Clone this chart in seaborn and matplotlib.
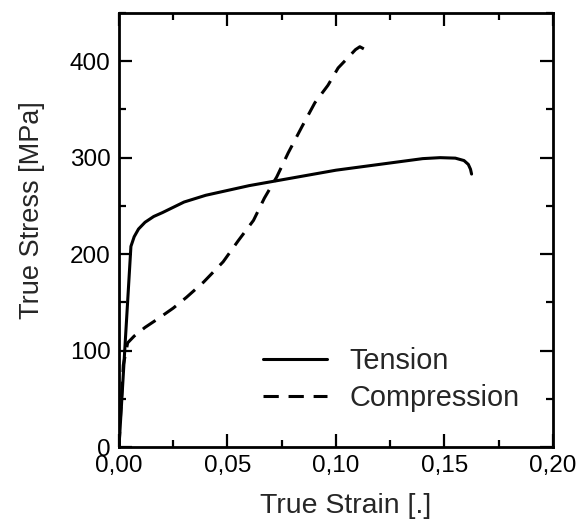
import numpy as np
import pandas as pd
import matplotlib
matplotlib.use("Agg")
import matplotlib.pyplot as plt
from matplotlib.ticker import MultipleLocator, FuncFormatter
import seaborn as sns

# values
tension_strain = [0, 0.0055, 0.007, 0.009, 0.012, 0.016, 0.02, 0.03, 0.04, 0.05, 0.06,
                  0.07, 0.08, 0.09, 0.10, 0.11, 0.12, 0.13, 0.14, 0.148, 0.155, 0.159,
                  0.161, 0.162, 0.1625]
tension_stress = [0, 208, 218, 226, 233, 239, 243, 254, 261, 266, 271,
                  275, 279, 283, 287, 290, 293, 296, 299, 300, 299.5, 297,
                  293, 288, 283]

compression_strain = [0, 0.001, 0.002, 0.004, 0.007, 0.012, 0.018, 0.025, 0.031, 0.039,
                      0.048, 0.055, 0.062, 0.067, 0.0727, 0.078, 0.0843, 0.0903, 0.0963,
                      0.101, 0.1065, 0.109, 0.111, 0.1143]
compression_stress = [0, 45, 85, 108, 115, 124, 133, 144, 155, 171,
                      192, 214, 235, 258, 280, 305, 332, 357, 375,
                      393, 406, 412, 415, 411]

x_ticks = [0.00, 0.05, 0.10, 0.15, 0.20]
y_ticks = [0, 100, 200, 300, 400]

sns.set_style("ticks")
plt.rcParams["font.family"] = ["Liberation Sans", "DejaVu Sans"]

fig = plt.figure(figsize=(5.79, 5.19), dpi=100)
ax = fig.add_axes([0.2055, 0.1387, 0.7495, 0.8363])

df_t = pd.DataFrame({"strain": tension_strain, "stress": tension_stress})
df_c = pd.DataFrame({"strain": compression_strain, "stress": compression_stress})

sns.lineplot(data=df_t, x="strain", y="stress", ax=ax, color="black", lw=2.2,
             sort=False, estimator=None, label="Tension")
sns.lineplot(data=df_c, x="strain", y="stress", ax=ax, color="black", lw=2.2,
             sort=False, estimator=None, label="Compression",
             linestyle=(0, (5, 3.2)))

ax.set_xlim(0, 0.20)
ax.set_ylim(0, 450)
ax.set_xticks(x_ticks)
ax.set_yticks(y_ticks)
ax.xaxis.set_minor_locator(MultipleLocator(0.025))
ax.yaxis.set_minor_locator(MultipleLocator(50))
ax.xaxis.set_major_formatter(FuncFormatter(lambda v, p: f"{v:.2f}".replace(".", ",")))

for s in ax.spines.values():
    s.set_linewidth(2.0)
    s.set_color("black")
ax.tick_params(which="both", direction="in", top=True, right=True, width=1.6, colors="black")
ax.tick_params(which="major", length=9.5, labelsize=17.5, pad=6)
ax.tick_params(which="minor", length=5)

ax.set_xlabel("True Strain [.]", fontsize=20.5)
ax.set_ylabel("True Stress [MPa]", fontsize=19.5)
ax.xaxis.set_label_coords(0.523, -0.105)
ax.yaxis.set_label_coords(-0.17, 0.546)

ax.legend(loc="center left", bbox_to_anchor=(0.272, 0.155), frameon=False, fontsize=20.8,
          handlelength=2.2, handletextpad=0.8, labelspacing=0.3)

fig.savefig("out.png", dpi=100)
